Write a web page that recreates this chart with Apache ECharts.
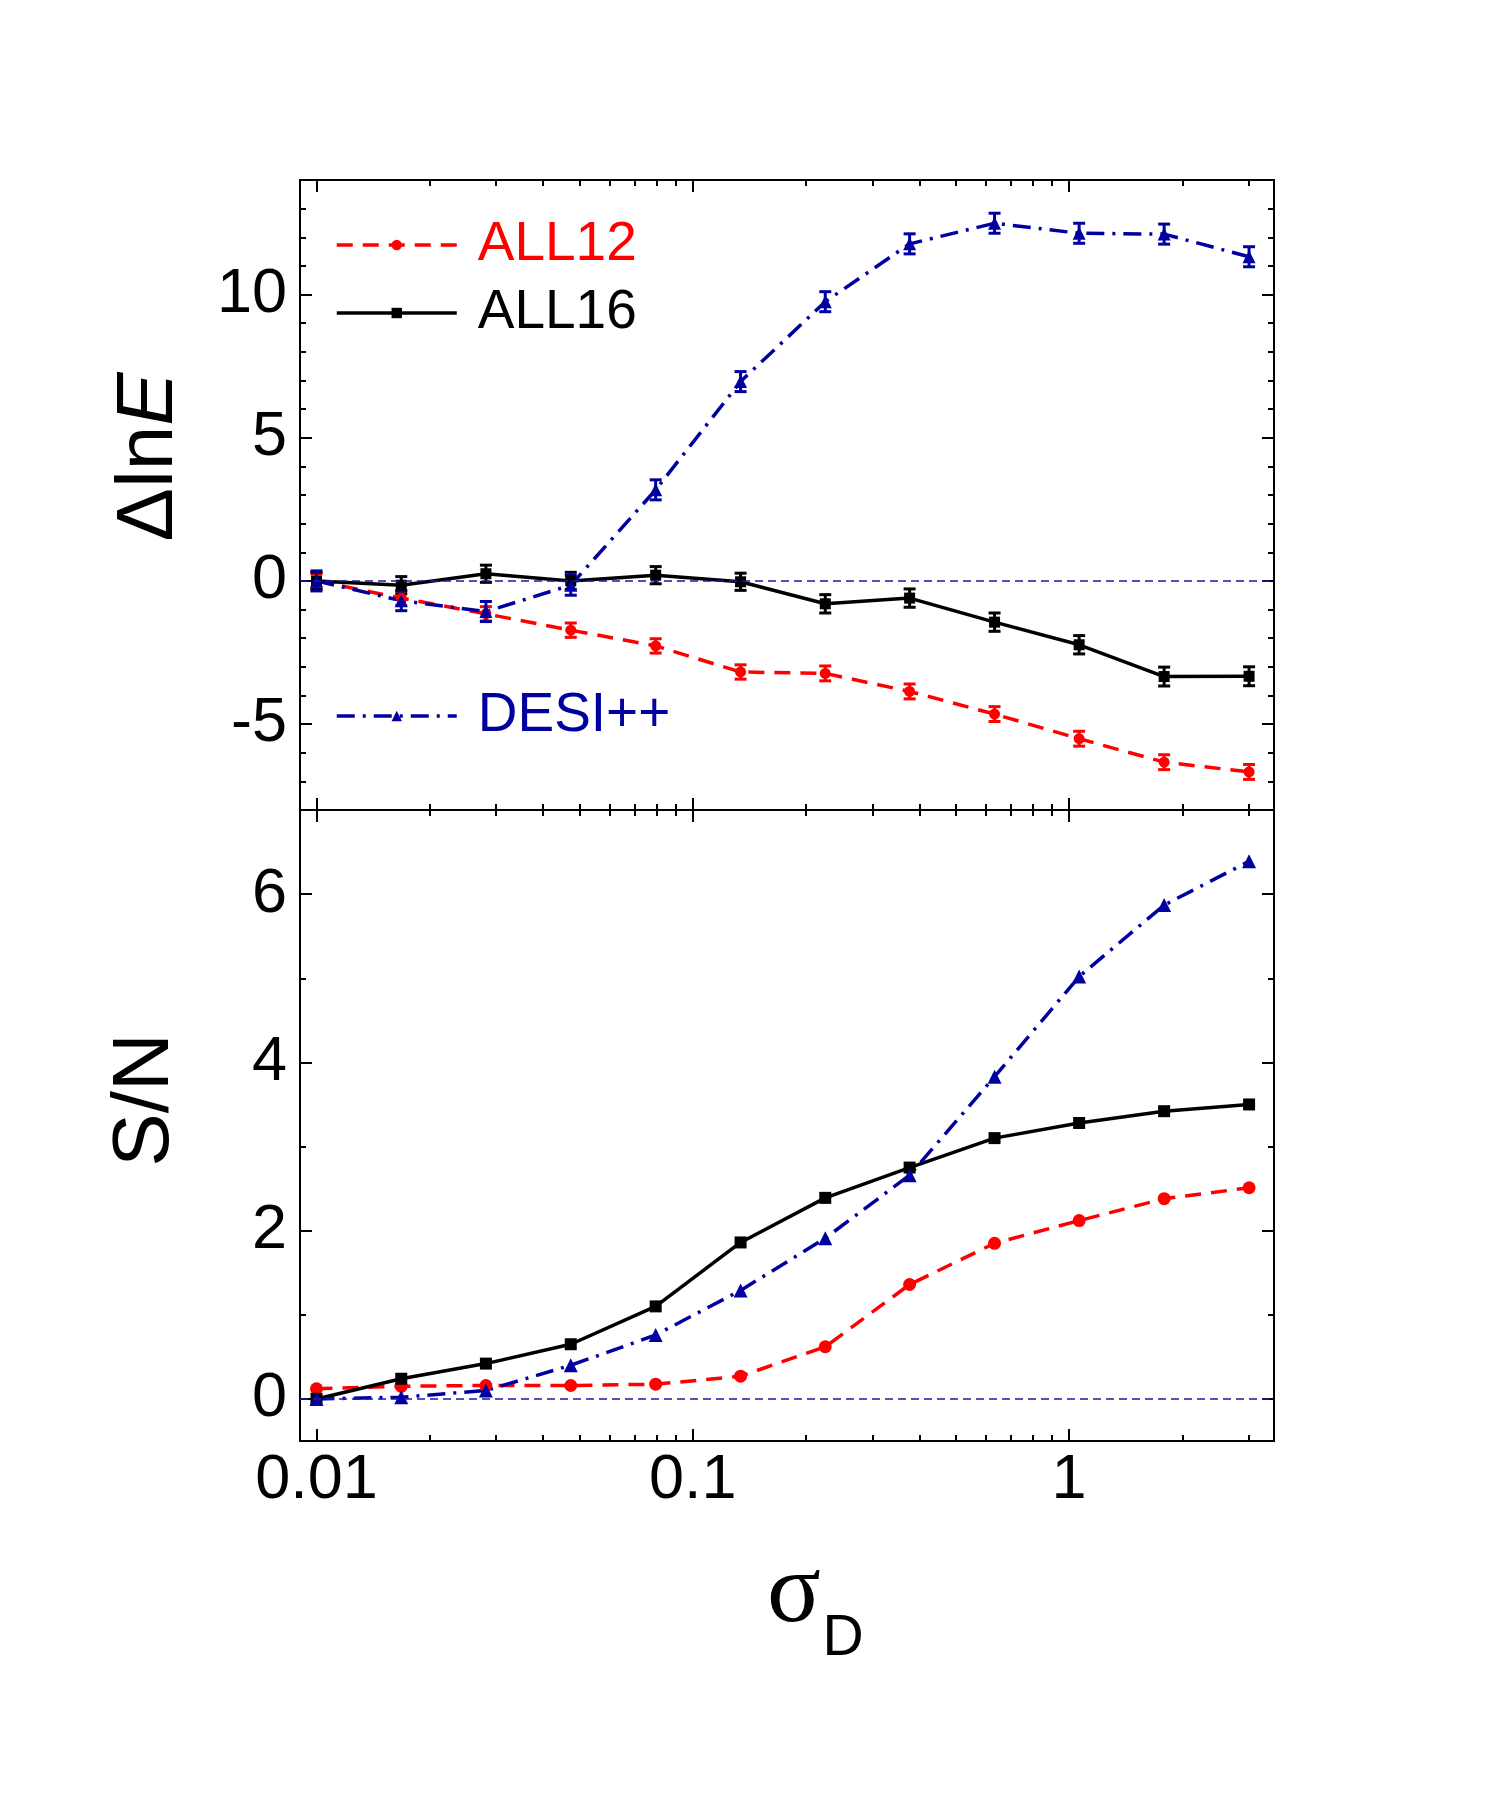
<!DOCTYPE html>
<html>
<head>
<meta charset="utf-8">
<title>sigma_D</title>
<script src="https://cdn.jsdelivr.net/npm/echarts@6/dist/echarts.min.js"></script>
<style>
  html, body { margin: 0; padding: 0; background: #fff; }
  #chart { width: 1500px; height: 1800px; }
</style>
</head>
<body>
<div id="chart"></div>
<script>
// sigma_D sampling points (shared by both panels)
const sigmaD = [0.01, 0.0168, 0.0282, 0.0474, 0.0797, 0.134, 0.225, 0.377, 0.634, 1.064, 1.79, 3.01];

// upper panel: Delta ln E with error bars
const all12LnE = [0, -0.6, -1.15, -1.72, -2.27, -3.18, -3.23, -3.86, -4.65, -5.51, -6.33, -6.67];
const all16LnE = [0, -0.15, 0.25, 0, 0.2, -0.03, -0.8, -0.6, -1.44, -2.23, -3.34, -3.33];
const desiLnE = [0, -0.69, -1.07, -0.15, 3.18, 6.96, 9.75, 11.77, 12.49, 12.14, 12.11, 11.32];
const all12LnEErr = [0.25, 0.25, 0.25, 0.25, 0.25, 0.25, 0.26, 0.26, 0.26, 0.26, 0.26, 0.26];
const all16LnEErr = [0.3, 0.3, 0.3, 0.3, 0.3, 0.3, 0.32, 0.32, 0.32, 0.32, 0.33, 0.33];
const desiLnEErr = [0.35, 0.35, 0.35, 0.35, 0.35, 0.35, 0.35, 0.35, 0.35, 0.35, 0.35, 0.35];

// lower panel: S/N
const all12SN = [0.12, 0.15, 0.16, 0.16, 0.175, 0.27, 0.62, 1.36, 1.85, 2.12, 2.38, 2.51];
const all16SN = [0, 0.24, 0.42, 0.65, 1.1, 1.86, 2.39, 2.75, 3.1, 3.28, 3.42, 3.5];
const desiSN = [0, 0.02, 0.1, 0.4, 0.76, 1.29, 1.91, 2.66, 3.83, 5.02, 5.87, 6.39];

// ticks
const xTickLabels = ['0.01', '0.1', '1'];
const xMinorTicks = [0.02, 0.03, 0.04, 0.05, 0.06, 0.07, 0.08, 0.09, 0.2, 0.3, 0.4, 0.5, 0.6, 0.7, 0.8, 0.9, 2, 3];
const lnETicks = [-5, 0, 5, 10];
const lnEMinorTicks = [-7, -6, -4, -3, -2, -1, 1, 2, 3, 4, 6, 7, 8, 9, 11, 12, 13];
const snTicks = [0, 2, 4, 6];
const snMinorTicks = [1, 3, 5];

const FONT = 'Liberation Sans';
const RED = '#ff0000';
const BLACK = '#000000';
const BLUE = '#0000a0';
const X_MIN = 0.00904;
const X_MAX = 3.506;

function xAxisFor(gridIndex, position, ticks, tickLen, withLabels) {
  return {
    type: 'log',
    logBase: 10,
    gridIndex: gridIndex,
    position: position,
    min: X_MIN,
    max: X_MAX,
    axisLine: { show: true, onZero: false, lineStyle: { color: '#000', width: 2 } },
    axisTick: { show: true, inside: true, length: tickLen, customValues: ticks, lineStyle: { color: '#000', width: 2 } },
    axisLabel: withLabels
      ? { show: true, customValues: ticks, margin: 8, fontSize: 63, fontFamily: FONT, color: '#000',
          formatter: v => String(Number(Number(v).toPrecision(6))) }
      : { show: false },
    splitLine: { show: false },
    minorTick: { show: false }
  };
}

function yAxisFor(gridIndex, position, min, max, ticks, tickLen, withLabels) {
  return {
    type: 'value',
    gridIndex: gridIndex,
    position: position,
    min: min,
    max: max,
    axisLine: { show: true, onZero: false, lineStyle: { color: '#000', width: 2 } },
    axisTick: { show: true, inside: true, length: tickLen, customValues: ticks, lineStyle: { color: '#000', width: 2 } },
    axisLabel: withLabels
      ? { show: true, customValues: ticks, margin: 13, fontSize: 63, fontFamily: FONT, color: '#000' }
      : { show: false },
    splitLine: { show: false },
    minorTick: { show: false }
  };
}

const xMajor = xTickLabels.map(Number);

const xAxes = [
  // upper panel
  xAxisFor(0, 'bottom', xMajor, 12, false),
  xAxisFor(0, 'bottom', xMinorTicks, 6, false),
  xAxisFor(0, 'top', xMajor, 12, false),
  xAxisFor(0, 'top', xMinorTicks, 6, false),
  // lower panel
  xAxisFor(1, 'bottom', xMajor, 12, true),
  xAxisFor(1, 'bottom', xMinorTicks, 6, false),
  xAxisFor(1, 'top', xMajor, 12, false),
  xAxisFor(1, 'top', xMinorTicks, 6, false)
];

const yAxes = [
  yAxisFor(0, 'left', -8, 14, lnETicks, 12, true),
  yAxisFor(0, 'left', -8, 14, lnEMinorTicks, 6, false),
  yAxisFor(0, 'right', -8, 14, lnETicks, 12, false),
  yAxisFor(0, 'right', -8, 14, lnEMinorTicks, 6, false),
  yAxisFor(1, 'left', -0.5, 7, snTicks, 12, true),
  yAxisFor(1, 'left', -0.5, 7, snMinorTicks, 6, false),
  yAxisFor(1, 'right', -0.5, 7, snTicks, 12, false),
  yAxisFor(1, 'right', -0.5, 7, snMinorTicks, 6, false)
];

const zeroLine = {
  silent: true,
  symbol: 'none',
  label: { show: false },
  lineStyle: { color: '#1a1aa6', type: [8, 5], width: 1.5 },
  data: [{ yAxis: 0 }]
};

function lineSeries(name, axisIdx, values, color, dash, symbol, size, withZero) {
  const s = {
    type: 'line',
    name: name,
    xAxisIndex: axisIdx,
    yAxisIndex: axisIdx,
    data: sigmaD.map((x, i) => [x, values[i]]),
    symbol: symbol,
    symbolSize: size,
    showSymbol: true,
    itemStyle: { color: color, borderWidth: 0 },
    lineStyle: { color: color, width: 3.5, type: dash },
    z: 3
  };
  if (withZero) s.markLine = zeroLine;
  return s;
}

function errorSeries(name, values, errs, color) {
  return {
    type: 'custom',
    name: name,
    xAxisIndex: 0,
    yAxisIndex: 0,
    silent: true,
    z: 2,
    data: sigmaD.map((x, i) => [x, values[i], errs[i]]),
    renderItem: function (params, api) {
      const x = api.value(0);
      const y = api.value(1);
      const e = api.value(2);
      const hi = api.coord([x, y + e]);
      const lo = api.coord([x, y - e]);
      const w = 6;
      const style = { stroke: color, lineWidth: 3 };
      return {
        type: 'group',
        children: [
          { type: 'line', shape: { x1: hi[0], y1: hi[1], x2: lo[0], y2: lo[1] }, style: style },
          { type: 'line', shape: { x1: hi[0] - w, y1: hi[1], x2: hi[0] + w, y2: hi[1] }, style: style },
          { type: 'line', shape: { x1: lo[0] - w, y1: lo[1], x2: lo[0] + w, y2: lo[1] }, style: style }
        ]
      };
    }
  };
}

const DASH_RED = [16, 10];
const DASH_BLUE = [18, 8, 3, 8];

const legendBase = {
  orient: 'vertical',
  left: 335,
  padding: 0,
  itemWidth: 120,
  itemHeight: 13,
  selectedMode: false,
  lineStyle: { width: 3.5 },
  textStyle: { fontSize: 55, fontFamily: FONT, lineHeight: 60, padding: [0, 0, 0, 16] }
};

const chart = echarts.init(document.getElementById('chart'), null, { renderer: 'canvas' });

chart.setOption({
  animation: false,
  backgroundColor: '#fff',
  grid: [
    { left: 300, top: 180, width: 974, height: 630, outerBoundsMode: 'none' },
    { left: 300, top: 810, width: 974, height: 631, outerBoundsMode: 'none' }
  ],
  xAxis: xAxes,
  yAxis: yAxes,
  legend: [
    Object.assign({}, legendBase, { top: 215, data: [{ name: 'ALL12', textStyle: { color: RED } }] }),
    Object.assign({}, legendBase, { top: 283, data: [{ name: 'ALL16', textStyle: { color: BLACK } }] }),
    Object.assign({}, legendBase, { top: 686, data: [{ name: 'DESI++', textStyle: { color: BLUE } }] })
  ],
  graphic: [
    {
      type: 'text', x: 150, y: 457, rotation: Math.PI / 2,
      style: {
        text: '{n|Δln}{i|E}',
        align: 'center', verticalAlign: 'middle', fill: '#000',
        rich: {
          n: { fontSize: 80, fontFamily: FONT, fill: '#000' },
          i: { fontSize: 80, fontFamily: FONT, fontStyle: 'italic', fill: '#000' }
        }
      }
    },
    {
      type: 'text', x: 146, y: 1100, rotation: Math.PI / 2,
      style: { text: 'S/N', fontSize: 80, fontFamily: FONT, fill: '#000', align: 'center', verticalAlign: 'middle' }
    },
    {
      type: 'text', x: 794, y: 1595,
      style: { text: 'σ', fontSize: 100, fontFamily: 'Liberation Serif', fill: '#000', align: 'center', verticalAlign: 'middle' }
    },
    {
      type: 'text', x: 843, y: 1639,
      style: { text: 'D', fontSize: 57, fontFamily: FONT, fill: '#000', align: 'center', verticalAlign: 'middle' }
    }
  ],
  series: [
    // upper panel
    errorSeries('ALL12 err', all12LnE, all12LnEErr, RED),
    errorSeries('ALL16 err', all16LnE, all16LnEErr, BLACK),
    errorSeries('DESI++ err', desiLnE, desiLnEErr, BLUE),
    lineSeries('ALL12', 0, all12LnE, RED, DASH_RED, 'circle', 11, true),
    lineSeries('ALL16', 0, all16LnE, BLACK, 'solid', 'rect', 11, false),
    lineSeries('DESI++', 0, desiLnE, BLUE, DASH_BLUE, 'triangle', 13, false),
    // lower panel
    lineSeries('ALL12', 4, all12SN, RED, DASH_RED, 'circle', 13, true),
    lineSeries('ALL16', 4, all16SN, BLACK, 'solid', 'rect', 12, false),
    lineSeries('DESI++', 4, desiSN, BLUE, DASH_BLUE, 'triangle', 14, false)
  ]
});
</script>
</body>
</html>
